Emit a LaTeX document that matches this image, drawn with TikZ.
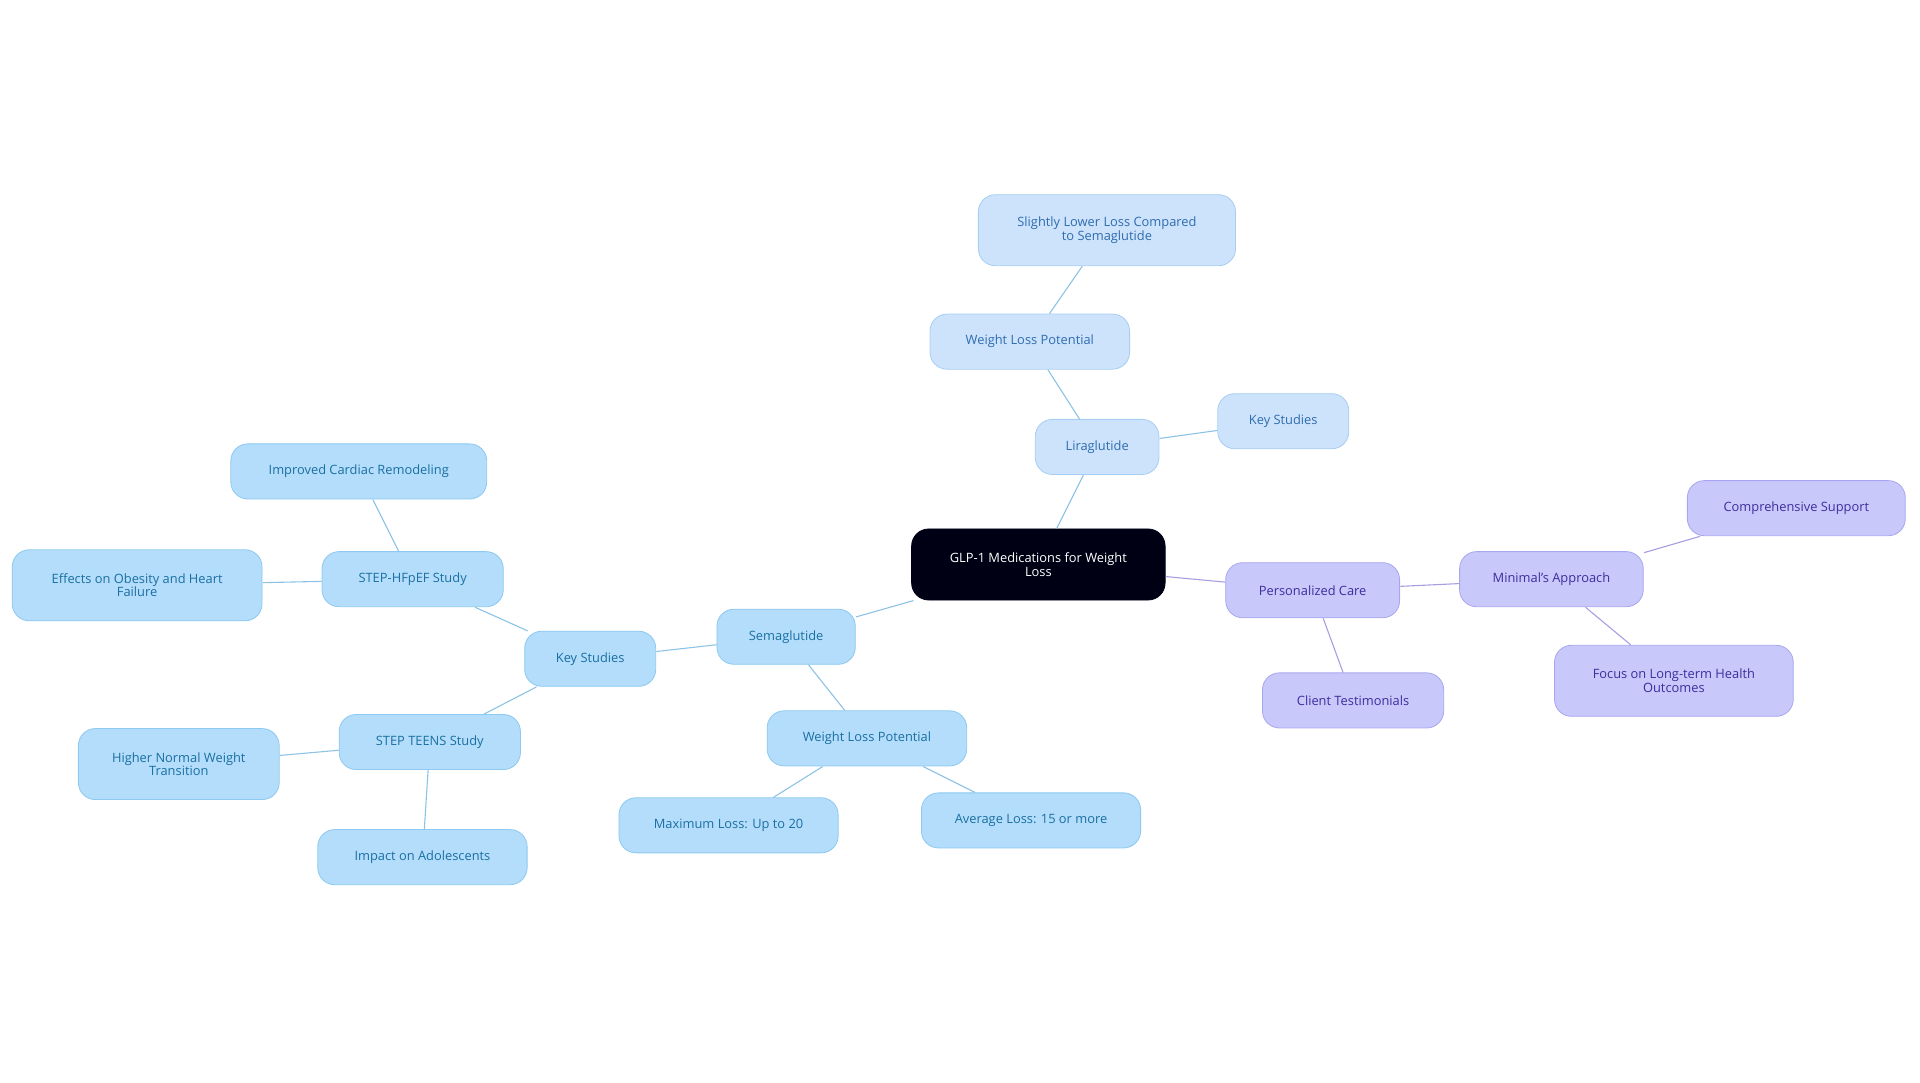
\documentclass[tikz,border=0pt]{standalone}
\usepackage{fontspec}
\setmainfont{Open Sans}
\begin{document}
\begin{tikzpicture}[x=1pt,y=-1pt,scale=1.2245,every node/.style={transform shape},
 base/.style={draw,rounded corners=17pt,line width=0.8pt,align=center,inner sep=2pt,minimum height=45pt,font=\fontsize{10.5}{11}\selectfont},
 bl/.style={base,fill=cBf,draw=cBd,text=cBt},
 lb/.style={base,fill=cLf,draw=cLd,text=cLt},
 pu/.style={base,fill=cPf,draw=cPd,text=cPt},
 eb/.style={draw=cBe,line width=1.1pt},
 ep/.style={draw=cPe,line width=1.1pt}]
\definecolor{cBf}{HTML}{B3DDFA}\definecolor{cBd}{HTML}{8DC9F0}\definecolor{cBt}{HTML}{1A6FA3}
\definecolor{cLf}{HTML}{CDE3FB}\definecolor{cLd}{HTML}{A6CDF3}\definecolor{cLt}{HTML}{2F6CB0}
\definecolor{cPf}{HTML}{C9C8FB}\definecolor{cPd}{HTML}{A8A6EE}\definecolor{cPt}{HTML}{3C2E9E}
\definecolor{cBe}{HTML}{8CC3E4}\definecolor{cPe}{HTML}{A79DE0}
\useasboundingbox (0,0) rectangle (1568,884.4);
\node[base,fill=black!92!blue,draw=black!92!blue,text=white,minimum width=207pt,minimum height=58pt] (r) at (848,461) {GLP-1 Medications for Weight\\Loss};
\node[lb,minimum width=101pt] (li) at (896,365) {Liraglutide};
\node[lb,minimum width=163pt] (lw) at (841,279) {Weight Loss Potential};
\node[lb,minimum width=210pt,minimum height=58pt] (ls) at (904,188) {Slightly Lower Loss Compared\\to Semaglutide};
\node[lb,minimum width=107pt] (lk) at (1048,344) {Key Studies};
\node[bl,minimum width=113pt] (se) at (642,520) {Semaglutide};
\node[bl,minimum width=163pt] (sw) at (708,603) {Weight Loss Potential};
\node[bl,minimum width=179pt] (sm) at (595,674) {Maximum Loss: Up to 20};
\node[bl,minimum width=179pt] (sa) at (842,670) {Average Loss: 15 or more};
\node[bl,minimum width=107pt] (sk) at (482,538) {Key Studies};
\node[bl,minimum width=148pt] (hf) at (337,473) {STEP-HFpEF Study};
\node[bl,minimum width=209pt] (ic) at (293,385) {Improved Cardiac Remodeling};
\node[bl,minimum width=204pt,minimum height=58pt] (eo) at (112,478) {Effects on Obesity and Heart\\Failure};
\node[bl,minimum width=148pt] (st) at (351,606) {STEP TEENS Study};
\node[bl,minimum width=164pt,minimum height=58pt] (hn) at (146,624) {Higher Normal Weight\\Transition};
\node[bl,minimum width=171pt] (ia) at (345,700) {Impact on Adolescents};
\node[pu,minimum width=142pt] (pc) at (1072,482) {Personalized Care};
\node[pu,minimum width=148pt] (ct) at (1105,572) {Client Testimonials};
\node[pu,minimum width=150pt] (ma) at (1267,473) {Minimal's Approach};
\node[pu,minimum width=178pt] (cs) at (1467,415) {Comprehensive Support};
\node[pu,minimum width=195pt,minimum height=58pt] (fo) at (1367,556) {Focus on Long-term Health\\Outcomes};
\begin{scope}[on background layer/.try]
\end{scope}
\draw[eb] (r) -- (li); \draw[eb] (li) -- (lw); \draw[eb] (lw) -- (ls); \draw[eb] (li) -- (lk);
\draw[eb] (r) -- (se); \draw[eb] (se) -- (sw); \draw[eb] (sw) -- (sm); \draw[eb] (sw) -- (sa);
\draw[eb] (se) -- (sk); \draw[eb] (sk) -- (hf); \draw[eb] (hf) -- (ic); \draw[eb] (hf) -- (eo);
\draw[eb] (sk) -- (st); \draw[eb] (st) -- (hn); \draw[eb] (st) -- (ia);
\draw[ep] (r) -- (pc); \draw[ep] (pc) -- (ct); \draw[ep] (pc) -- (ma); \draw[ep] (ma) -- (cs); \draw[ep] (ma) -- (fo);
\end{tikzpicture}
\end{document}
